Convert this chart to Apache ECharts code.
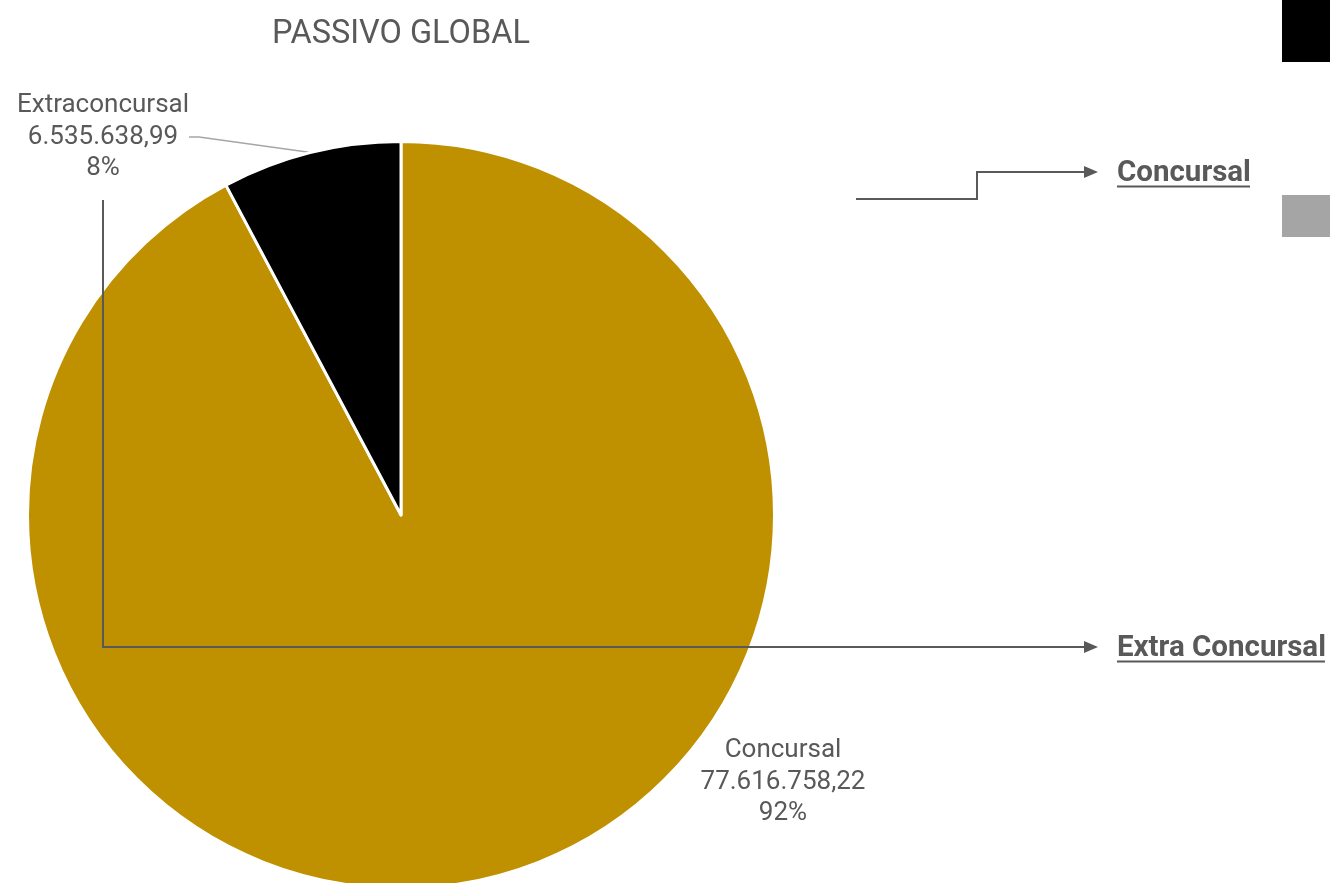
<!DOCTYPE html>
<html><head><meta charset="utf-8">
<script src="https://cdn.jsdelivr.net/npm/echarts@6/dist/echarts.min.js"></script>
<style>html,body{margin:0;padding:0;background:#fff}#c{width:1330px;height:883px}</style>
</head><body><div id="c"></div>
<script>
const titleText = 'PASSIVO GLOBAL';
const categories = ['Concursal', 'Extraconcursal'];
const values = [77616758.22, 6535638.99];
const colors = ['#BF9000', '#000000'];
const annotationLabels = ['Concursal', 'Extra Concursal'];

function fmtBR(v) {
  const parts = v.toFixed(2).split('.');
  return parts[0].replace(/\B(?=(\d{3})+(?!\d))/g, '.') + ',' + parts[1];
}

const labelPos = [[783, 782], [103, 137]];
const txt = '#595959';
const font = 'Roboto';

const chart = echarts.init(document.getElementById('c'), null, {renderer: 'canvas'});
const data = categories.map((c, i) => ({
  name: c, value: values[i],
  itemStyle: {color: colors[i]},
  labelLine: {show: i === 1}
}));

function arrow(x, y) {
  return {type: 'polygon', shape: {points: [[x, y], [x - 14, y - 6], [x - 14, y + 6]]}, style: {fill: txt}, z: 10};
}

chart.setOption({
  animation: false,
  title: {
    text: titleText, left: 396, top: 13, textAlign: 'center',
    textStyle: {fontFamily: font, fontSize: 32.5, fontWeight: 'normal', color: txt}
  },
  series: [{
    type: 'pie',
    center: [401, 515],
    radius: [0, 373.5],
    startAngle: 90,
    clockwise: true,
    data: data,
    itemStyle: {borderColor: '#fff', borderWidth: 3},
    label: {
      show: true, position: 'outside',
      fontFamily: font, fontSize: 26, color: txt, lineHeight: 31.5, align: 'center',
      formatter: p => p.name + '\n' + fmtBR(p.value) + '\n' + Math.round(p.percent) + '%'
    },
    labelLine: {show: true, length: 10, length2: 10, lineStyle: {color: '#A6A6A6', width: 1.5}},
    labelLayout: function (p) {
      const pos = labelPos[p.dataIndex];
      return {x: pos[0], y: pos[1], align: 'center', verticalAlign: 'middle'};
    },
    emphasis: {disabled: true}
  }],
  graphic: [
    {type: 'rect', shape: {x: 1282, y: 0, width: 48, height: 62}, style: {fill: '#000'}},
    {type: 'rect', shape: {x: 1282, y: 195, width: 48, height: 42}, style: {fill: '#A5A5A5'}},
    {type: 'polyline', shape: {points: [[856, 199], [977, 199], [977, 172], [1085, 172]]}, style: {stroke: txt, lineWidth: 2, fill: null}, z: 10},
    arrow(1098, 172),
    {type: 'polyline', shape: {points: [[103, 200], [103, 647], [1085, 647]]}, style: {stroke: txt, lineWidth: 2, fill: null}, z: 10},
    arrow(1098, 647),
    {type: 'text', x: 1117, y: 174, style: {text: annotationLabels[0], font: 'bold 29.5px Roboto', fill: txt, verticalAlign: 'middle', align: 'left'}, z: 10},
    {type: 'line', shape: {x1: 1117, y1: 186.5, x2: 1250, y2: 186.5}, style: {stroke: txt, lineWidth: 2}, z: 10},
    {type: 'text', x: 1117, y: 649, style: {text: annotationLabels[1], font: 'bold 29.5px Roboto', fill: txt, verticalAlign: 'middle', align: 'left'}, z: 10},
    {type: 'line', shape: {x1: 1117, y1: 661.5, x2: 1325, y2: 661.5}, style: {stroke: txt, lineWidth: 2}, z: 10}
  ]
});
</script></body></html>
